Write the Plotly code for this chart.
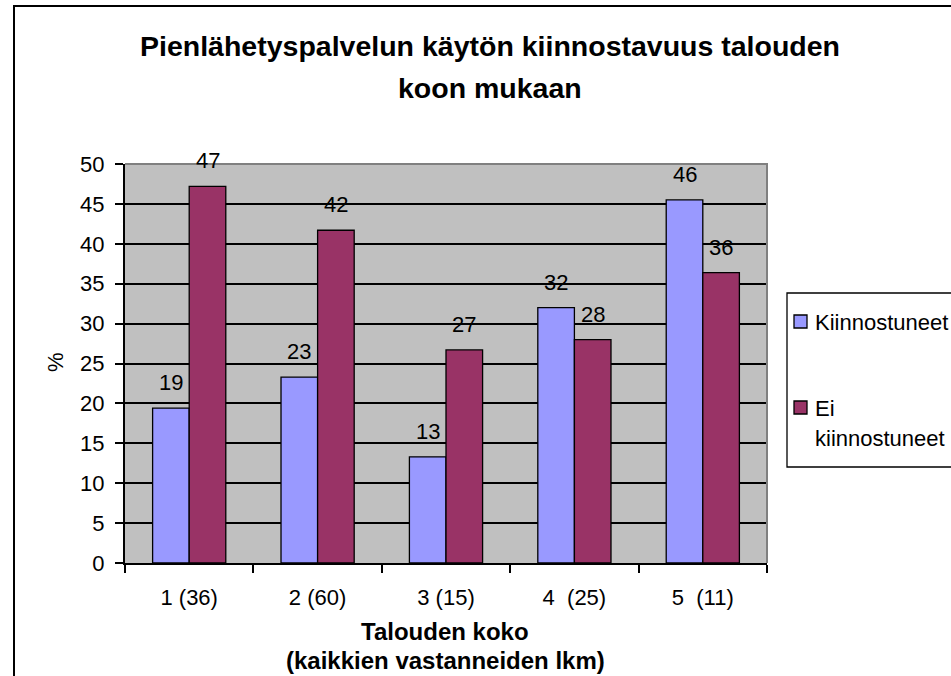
import plotly.graph_objects as go

# ---- data ----
categories = ["1 (36)", "2 (60)", "3 (15)", "4 \u00a0(25)", "5 \u00a0(11)"]
interested = [19.4, 23.3, 13.3, 32.0, 45.5]
not_interested = [47.2, 41.7, 26.7, 28.0, 36.4]
interested_labels = ["19", "23", "13", "32", "46"]
not_interested_labels = ["47", "42", "27", "28", "36"]
series_names = ["Kiinnostuneet", "Ei kiinnostuneet"]
y_ticks = [0, 5, 10, 15, 20, 25, 30, 35, 40, 45, 50]

title_lines = ["Pienlähetyspalvelun käytön kiinnostavuus talouden", "koon mukaan"]
x_title_lines = ["Talouden koko", "(kaikkien vastanneiden lkm)"]
y_title = "%"

# ---- layout geometry (window pixels) ----
W, H = 951, 676
L, R, T, B = 125, 767, 164, 563
FONT = "Liberation Sans, Arial, sans-serif"
BLUE = "#9999FF"
RED = "#993366"


def px(x):
    return (x - L) / (R - L)


def py(y):
    return (B - y) / (B - T)


fig = go.Figure()
fig.add_trace(go.Bar(x=categories, y=interested, name=series_names[0],
                     marker=dict(color=BLUE, line=dict(color="black", width=1.3))))
fig.add_trace(go.Bar(x=categories, y=not_interested, name=series_names[1],
                     marker=dict(color=RED, line=dict(color="black", width=1.3))))

annotations = []
# data labels
bar_half = 18.3
for i, c in enumerate(categories):
    for val, lab, sh in ((interested[i], interested_labels[i], -bar_half),
                         (not_interested[i], not_interested_labels[i], bar_half)):
        annotations.append(dict(x=c, y=val, xref="x", yref="y", text=lab,
                                showarrow=False, xshift=sh, yshift=11,
                                yanchor="bottom", font=dict(family=FONT, size=22, color="black")))

# title
for txt, yc in zip(title_lines, [46, 88]):
    annotations.append(dict(x=px(490), y=py(yc), xref="paper", yref="paper", text="<b>%s</b>" % txt,
                            showarrow=False, xanchor="center", yanchor="middle",
                            font=dict(family=FONT, size=28.5, color="black")))
# x axis title
for txt, yc in zip(x_title_lines, [631, 660]):
    annotations.append(dict(x=px(445), y=py(yc), xref="paper", yref="paper", text="<b>%s</b>" % txt,
                            showarrow=False, xanchor="center", yanchor="middle",
                            font=dict(family=FONT, size=24, color="black")))
# y axis title
annotations.append(dict(x=px(55), y=py(362), xref="paper", yref="paper", text=y_title,
                        showarrow=False, textangle=-90, xanchor="center", yanchor="middle",
                        font=dict(family=FONT, size=22, color="black")))

shapes = []
# chart border
shapes.append(dict(type="rect", xref="paper", yref="paper", x0=px(14), x1=px(1000), y0=py(6), y1=py(720),
                   line=dict(color="black", width=2), fillcolor="rgba(0,0,0,0)", layer="below"))
# plot area border (top and right)
shapes.append(dict(type="path", xref="paper", yref="paper",
                   path="M %f,%f L %f,%f L %f,%f" % (px(L), py(T), px(R), py(T), px(R), py(B)),
                   line=dict(color="#808080", width=2), layer="above"))
# manual legend (box runs past the right edge like the reference)
shapes.append(dict(type="rect", xref="paper", yref="paper", x0=px(787), x1=px(1000), y0=py(293), y1=py(467),
                   line=dict(color="black", width=1.3), fillcolor="white"))
shapes.append(dict(type="rect", xref="paper", yref="paper", x0=px(794), x1=px(807), y0=py(315), y1=py(328),
                   line=dict(color="black", width=1.3), fillcolor=BLUE))
shapes.append(dict(type="rect", xref="paper", yref="paper", x0=px(794), x1=px(807), y0=py(401), y1=py(414),
                   line=dict(color="black", width=1.3), fillcolor=RED))
legend_texts = [(series_names[0], 322)] + list(zip(series_names[1].split(" "), [408, 438]))
for txt, yc in legend_texts:
    annotations.append(dict(x=px(813), y=py(yc), xref="paper", yref="paper", text=txt,
                            showarrow=False, xanchor="left", yanchor="middle",
                            font=dict(family=FONT, size=22, color="black")))

fig.update_layout(
    width=W, height=H,
    margin=dict(l=L, r=W - R, t=T, b=H - B, pad=0),
    paper_bgcolor="white", plot_bgcolor="#C0C0C0",
    barmode="group", bargap=0.43, bargroupgap=0,
    showlegend=False,
    font=dict(family=FONT, size=22, color="black"),
    annotations=annotations, shapes=shapes,
)
fig.update_xaxes(type="category", tickson="boundaries", ticks="outside", ticklen=8, tickwidth=2,
                 tickcolor="black", showline=True, linecolor="black", linewidth=2,
                 showgrid=False, tickfont=dict(family=FONT, size=22), ticklabelstandoff=14)
fig.update_yaxes(range=[0, 50], tickvals=y_ticks, ticks="outside", ticklen=8, tickwidth=2,
                 tickcolor="black", showline=True, linecolor="black", linewidth=2,
                 showgrid=True, gridcolor="black", gridwidth=1.5, zeroline=False,
                 tickfont=dict(family=FONT, size=22), ticklabelstandoff=6)

fig.write_html("out.html", config={"displayModeBar": False},
               post_script="document.body.style.margin='0';document.body.style.overflow='hidden';")
